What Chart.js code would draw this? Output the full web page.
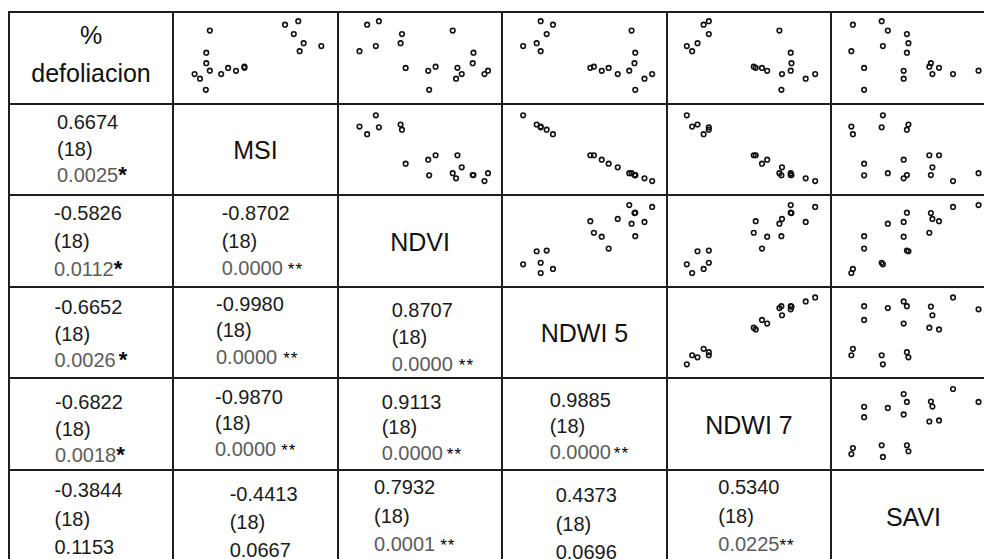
<!DOCTYPE html>
<html>
<head>
<meta charset="utf-8">
<title>Matriz de correlación</title>
<script src="https://cdn.jsdelivr.net/npm/chart.js"></script>
<style>
    body {
        margin: 0;
        width: 984px;
        height: 559px;
        overflow: hidden;
        background: #fff;
        font-family: "Liberation Sans", Arial, sans-serif;
    }
    #matriz { position: absolute; left: 0; top: 0; width: 984px; height: 559px; overflow: hidden; }
    .panel { position: absolute; }
    .linea { position: absolute; background: #1e1e1e; z-index: 2; }
    .etiqueta {
        position: absolute;
        display: flex;
        align-items: center;
        justify-content: center;
        text-align: center;
        font-size: 25px;
        color: #111;
        z-index: 1;
    }
    .valor { position: absolute; font-size: 20px; color: #1a1a1a; white-space: nowrap; z-index: 1; }
    .estrella { color: #000; }
</style>
</head>
<body>
<div id="matriz"></div>

<script>
// Nombres de las variables (diagonal de la matriz)
const variables = ['% defoliacion', 'MSI', 'NDVI', 'NDWI 5', 'NDWI 7', 'SAVI'];

// Posición de cada una de las 18 muestras sobre el eje de cada variable (0 = mínimo, 100 = máximo del panel)
const defoliacion = [95.6, 91.3, 83.9, 79.6, 68.4, 64.8, 58.5, 56.6, 43.6, 30.1, 30.1, 24.4, 10.6, 37.7, 39.3, 37.9, 34.3, 34.1];
const msi         = [77.8, 69.2, 20.3, 74.9, 81.3, 92.8, 78.7, 18.0, 18.0, 10.4, 27.7, 13.9, 17.7, 32.2, 42.8, 42.8, 20.3, 37.3];
const ndvi        = [23.1, 15.4, 71.4, 38.2, 37.3, 21.1, 10.4, 85.0, 84.5, 92.2, 77.3, 73.6, 56.0, 40.6, 60.2, 74.5, 94.5, 55.4];
const ndwi5       = [21.5, 29.5, 80.6, 25.4, 18.9, 10.1, 21.5, 83.0, 82.5, 94.0, 71.6, 89.0, 83.0, 65.7, 56.1, 53.8, 79.1, 61.2];
const ndwi7       = [23.7, 20.3, 69.9, 23.7, 16.3,  9.3, 12.8, 77.3, 77.8, 93.3, 71.6, 87.1, 71.2, 58.5, 53.1, 54.4, 77.3, 61.9];
const savi        = [29.3, 10.6, 33.3, 45.7, 46.7, 30.1,  9.6, 45.7, 61.3, 75.7, 62.3, 43.6, 17.9, 17.9, 60.3, 66.6, 92.3, 43.6];

const series = [defoliacion, msi, ndvi, ndwi5, ndwi7, savi];

// Triángulo inferior, fila por fila: coeficiente, (n) y p-valor con su significancia
const correlaciones = [0.6674, -0.5826, -0.8702, -0.6652, -0.9980, 0.8707, -0.6822, -0.9870, 0.9113, 0.9885,
                       -0.3844, -0.4413, 0.7932, 0.4373, 0.5340];
const nMuestras = [18, 18, 18, 18, 18, 18, 18, 18, 18, 18, 18, 18, 18, 18, 18];
const pValores = ['0.0025', '0.0112', '0.0000', '0.0026', '0.0000', '0.0000', '0.0018', '0.0000', '0.0000', '0.0000',
                  '0.1153', '0.0667', '0.0001', '0.0696', '0.0225'];
const estrellas = ['*', '*', '**', '*', '**', '**', '*', '**', '**', '**', '', '', '**', '', '**'];

// Geometría de la rejilla
var x0 = 8.8, y0 = 12, ancho = 164.5, alto = 91.6, n = variables.length;

// Ubicación del texto de cada celda inferior (izquierda, tope de la primera línea, interlineado, espacio antes de *)
var textoPos = [
    [57, 115, 26.5, 0],
    [54, 206.7, 27.5, 0], [221.7, 206.7, 27.5, 5],
    [54.5, 300, 26.5, 3], [216, 296.7, 26.7, 6], [391.7, 303, 27, 6],
    [55, 395, 26.5, 0], [215, 390, 26, 5], [381.7, 395, 25.5, 4], [549.7, 393, 26, 3],
    [54.5, 483, 28.5, 0], [229.7, 486.7, 28.2, 0], [374, 480, 28.5, 5], [555.7, 488, 28.5, 0], [718.3, 480, 28.5, 0]
];

var matriz = document.getElementById('matriz');

function celdaRect(fila, col) {
    var izq = Math.round(x0 + col * ancho);
    var der = Math.round(x0 + (col + 1) * ancho);
    var arr = Math.round(y0 + fila * alto);
    var aba = Math.round(y0 + (fila + 1) * alto);
    return { left: izq, top: arr, width: der - izq, height: aba - arr };
}

// Paneles de dispersión (triángulo superior): x = variable de la columna, y = variable de la fila
for (var i = 0; i < n; i++) {
    for (var j = i + 1; j < n; j++) {
        var r = celdaRect(i, j);
        var canvas = document.createElement('canvas');
        canvas.className = 'panel';
        canvas.width = r.width;
        canvas.height = r.height;
        canvas.style.left = r.left + 'px';
        canvas.style.top = r.top + 'px';
        matriz.appendChild(canvas);

        var puntos = series[j].map(function (v, k) {
            return { x: v, y: series[i][k] };
        });

        new Chart(canvas, {
            type: 'scatter',
            data: {
                datasets: [{
                    data: puntos,
                    pointRadius: 2.3,
                    pointBorderWidth: 1.6,
                    borderColor: '#111',
                    backgroundColor: 'rgba(0,0,0,0)'
                }]
            },
            options: {
                responsive: false,
                animation: false,
                events: [],
                layout: { padding: 0 },
                plugins: {
                    legend: { display: false },
                    tooltip: { enabled: false }
                },
                scales: {
                    x: { type: 'linear', min: 0, max: 100, display: false },
                    y: { type: 'linear', min: 0, max: 100, display: false }
                }
            }
        });
    }
}

// Etiquetas de la diagonal
variables.forEach(function (nombre, k) {
    var r = celdaRect(k, k);
    var div = document.createElement('div');
    div.className = 'etiqueta';
    div.style.left = r.left + 'px';
    div.style.top = r.top + 'px';
    div.style.width = r.width + 'px';
    div.style.height = r.height + 'px';
    if (k === 0) {
        // "% defoliacion" va en dos líneas
        div.style.lineHeight = '38.5px';
        div.innerHTML = '<div style="transform: translateY(-4px)">%<br>defoliacion</div>';
    } else {
        div.style.paddingTop = '2px';
        div.style.boxSizing = 'border-box';
        div.textContent = nombre;
    }
    matriz.appendChild(div);
});

// Texto de correlaciones (triángulo inferior)
var idx = 0;
for (var fila = 1; fila < n; fila++) {
    for (var col = 0; col < fila; col++) {
        var pos = textoPos[idx];
        var gap = pos[2];
        var lineas = [
            correlaciones[idx].toFixed(4),
            '(' + nMuestras[idx] + ')',
            null
        ];
        for (var l = 0; l < 3; l++) {
            var d = document.createElement('div');
            d.className = 'valor';
            d.style.left = pos[0] + 'px';
            d.style.top = (pos[1] + l * gap - (gap / 2 - 7.4)) + 'px';
            d.style.lineHeight = gap + 'px';
            if (l < 2) {
                d.textContent = lineas[l];
            } else {
                var sig = estrellas[idx] !== '';
                var p = document.createElement('span');
                p.textContent = pValores[idx];
                p.style.color = sig ? '#5c5c5c' : '#1a1a1a';
                d.appendChild(p);
                if (sig) {
                    var s = document.createElement('span');
                    s.className = 'estrella';
                    s.textContent = estrellas[idx];
                    s.style.marginLeft = pos[3] + 'px';
                    if (estrellas[idx] === '**') {
                        s.style.fontSize = '17px';
                        s.style.letterSpacing = '1px';
                    } else {
                        s.style.fontSize = '22px';
                        s.style.fontWeight = 'bold';
                    }
                    d.appendChild(s);
                }
            }
            matriz.appendChild(d);
        }
        idx++;
    }
}

// Líneas de la rejilla
for (var k = 0; k <= n; k++) {
    var v = document.createElement('div');
    v.className = 'linea';
    v.style.left = (Math.round(x0 + k * ancho) - 1) + 'px';
    v.style.top = (y0 - 1) + 'px';
    v.style.width = '2px';
    v.style.height = (n * alto + 2) + 'px';
    matriz.appendChild(v);

    var h = document.createElement('div');
    h.className = 'linea';
    h.style.left = (Math.round(x0) - 1) + 'px';
    h.style.top = (Math.round(y0 + k * alto) - 1) + 'px';
    h.style.width = (n * ancho + 2) + 'px';
    h.style.height = '2px';
    matriz.appendChild(h);
}
</script>
</body>
</html>
